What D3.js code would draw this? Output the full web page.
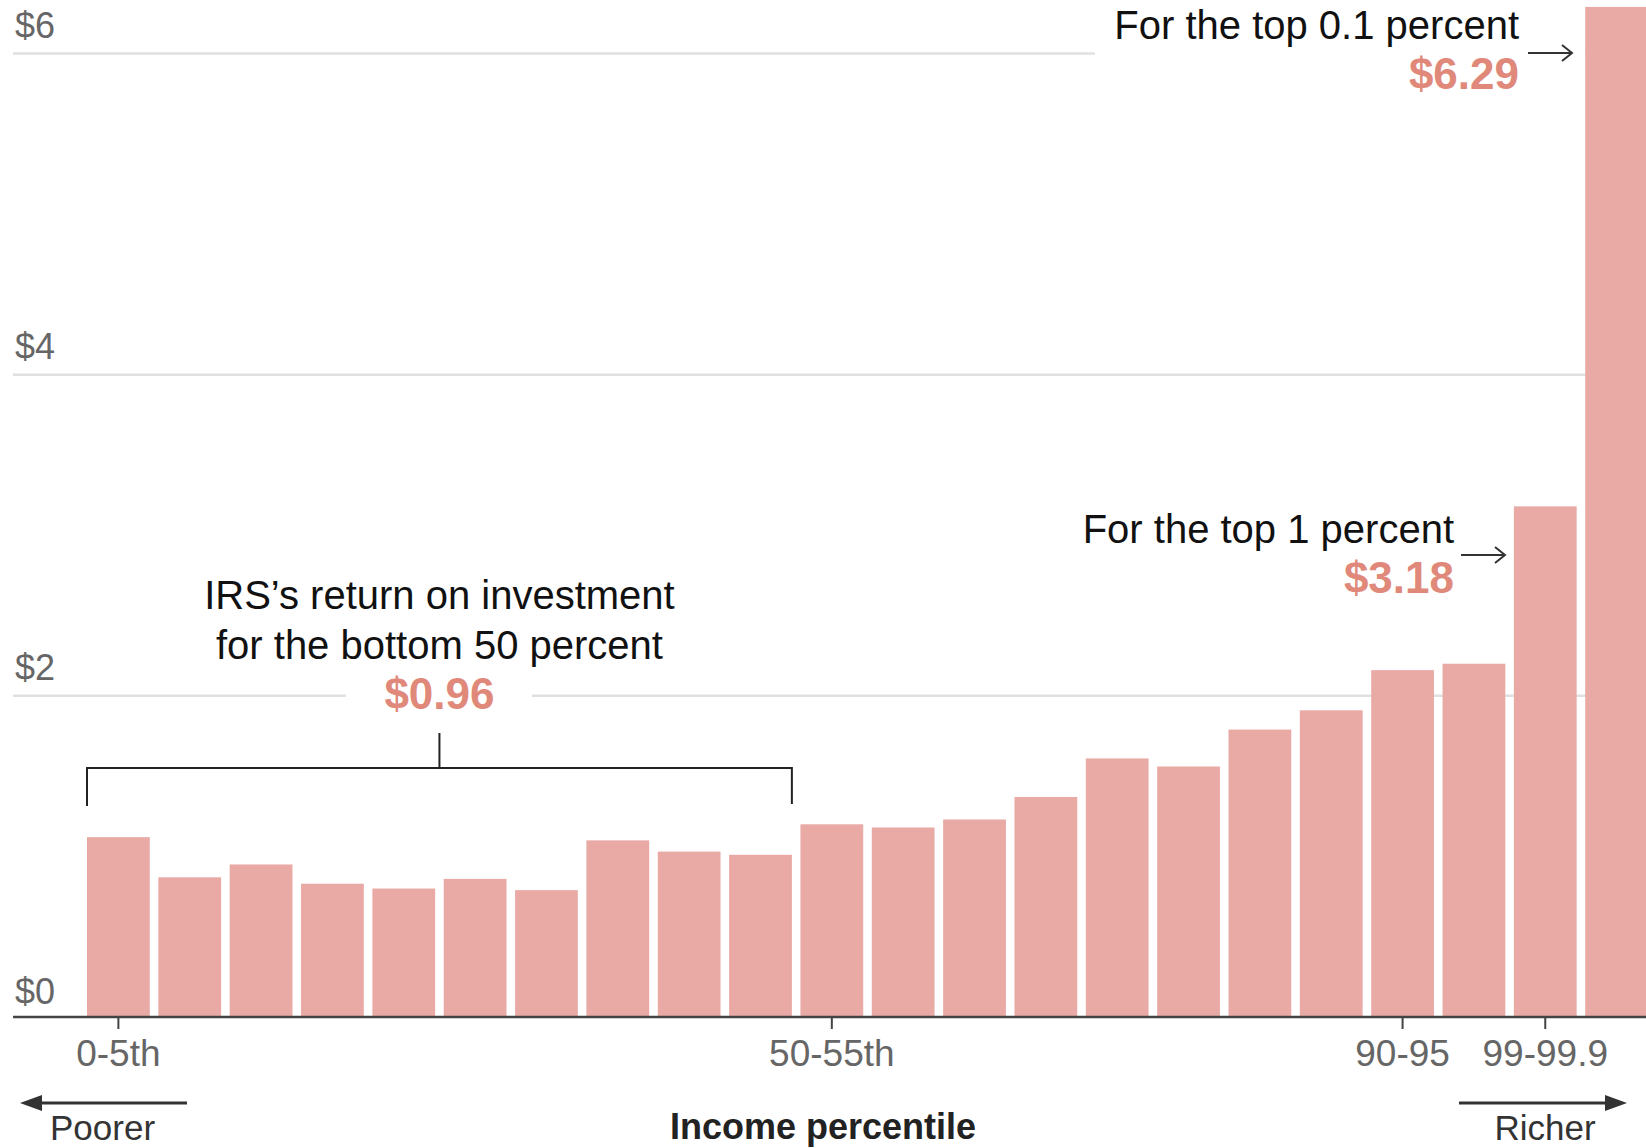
<!DOCTYPE html>
<html>
<head>
<meta charset="utf-8">
<script src="https://cdn.jsdelivr.net/npm/d3@7"></script>
<style>
  body { margin: 0; background: #fff; }
  text { font-family: "Liberation Sans", Arial, sans-serif; }
</style>
</head>
<body>
<div id="irs-graph"></div>
<script>
// data: IRS return per dollar spent, by income percentile
var categories = ["0-5", "5-10", "10-15", "15-20", "20-25", "25-30", "30-35", "35-40", "40-45", "45-50",
                  "50-55", "55-60", "60-65", "65-70", "70-75", "75-80", "80-85", "85-90",
                  "90-95", "95-99", "99-99.9", "99.9-100"];
var values = [1.12, 0.87, 0.95, 0.83, 0.80, 0.86, 0.79, 1.10, 1.03, 1.01,
              1.20, 1.18, 1.23, 1.37, 1.61, 1.56, 1.79, 1.91,
              2.16, 2.20, 3.18, 6.29];
var yTicks = [0, 2, 4, 6];
var xTickCats = ["0-5", "50-55", "90-95", "99-99.9"];
var xTickLabels = ["0-5th", "50-55th", "90-95", "99-99.9"];
var bottomGroup = ["0-5", "45-50"];

var data = categories.map(function(c, i) { return {cat: c, value: values[i]}; });

// set the dimensions of the graph
var width = 1646,
    height = 1148;

var svg = d3.select("#irs-graph")
  .append("svg")
    .attr("width", width)
    .attr("height", height);

var x = d3.scaleBand()
  .domain(categories)
  .range([87, 1648])
  .paddingInner(0.12)
  .paddingOuter(0);

var y = d3.scaleLinear()
  .domain([0, 6])
  .range([1017, 53.5]);

// gridlines
svg.selectAll(".grid")
  .data(yTicks.filter(function(d) { return d > 0; }))
  .enter()
  .append("line")
    .attr("class", "grid")
    .attr("x1", 13)
    .attr("x2", width)
    .attr("y1", function(d) { return y(d); })
    .attr("y2", function(d) { return y(d); })
    .style("stroke", "#e0e0e0")
    .style("stroke-width", 2.5);

// y labels sit above their gridline
svg.selectAll(".ylabel")
  .data(yTicks)
  .enter()
  .append("text")
    .attr("class", "ylabel")
    .attr("x", 15)
    .attr("y", function(d) { return y(d) - (d > 0 ? 16 : 13); })
    .style("font-size", "36px")
    .style("fill", "#666")
    .text(function(d) { return "$" + d; });

// white blocks that break the gridlines behind the annotations
svg.append("rect")
  .attr("x", 346).attr("y", 680).attr("width", 186).attr("height", 30)
  .style("fill", "#fff");
svg.append("rect")
  .attr("x", 1095).attr("y", 42).attr("width", 490).attr("height", 24)
  .style("fill", "#fff");

// bars
svg.selectAll(".bar")
  .data(data)
  .enter()
  .append("rect")
    .attr("class", "bar")
    .attr("x", function(d) { return x(d.cat); })
    .attr("y", function(d) { return y(d.value); })
    .attr("width", x.bandwidth())
    .attr("height", function(d) { return y(0) - y(d.value); })
    .style("fill", "#e9aaa6");

// x axis
var xAxis = svg.append("g")
  .attr("transform", "translate(0," + y(0) + ")")
  .call(d3.axisBottom(x)
    .tickValues(xTickCats)
    .tickFormat(function(d) { return xTickLabels[xTickCats.indexOf(d)]; })
    .tickSize(12));
xAxis.select(".domain").remove();
xAxis.selectAll(".tick line")
  .style("stroke", "#444")
  .style("stroke-width", 2);
xAxis.selectAll(".tick text")
  .attr("y", 23)
  .style("font-family", "\"Liberation Sans\", Arial, sans-serif")
  .style("font-size", "37px")
  .style("fill", "#666");

svg.append("line")
  .attr("x1", 13).attr("x2", width)
  .attr("y1", y(0)).attr("y2", y(0))
  .style("stroke", "#444")
  .style("stroke-width", 2.5);

// bracket over the bottom 50 percent
var bx1 = x(bottomGroup[0]),
    bx2 = x(bottomGroup[1]) + x.bandwidth(),
    bmid = (bx1 + bx2) / 2;
svg.append("path")
  .attr("d", "M" + bx1 + ",806V768H" + bx2 + "V804M" + bmid + ",768V733")
  .style("fill", "none")
  .style("stroke", "#222")
  .style("stroke-width", 2);

function note(xPos, yPos, anchor, lines, valueText) {
  var g = svg.append("g");
  lines.forEach(function(l, i) {
    g.append("text")
      .attr("x", xPos)
      .attr("y", yPos + i * 50)
      .attr("text-anchor", anchor)
      .style("font-size", "40px")
      .style("fill", "#111")
      .text(l);
  });
  g.append("text")
    .attr("x", xPos)
    .attr("y", yPos + lines.length * 50)
    .attr("text-anchor", anchor)
    .style("font-size", "44px")
    .style("font-weight", "bold")
    .style("fill", "#e0887a")
    .text(valueText);
}

note(bmid, 609, "middle", ["IRS\u2019s return on investment", "for the bottom 50 percent"], "$0.96");
note(1454, 543, "end", ["For the top 1 percent"], "$3.18");
note(1519, 39, "end", ["For the top 0.1 percent"], "$6.29");

// thin arrows pointing at the top bars
function thinArrow(x1, x2, yy) {
  svg.append("path")
    .attr("d", "M" + x1 + "," + yy + "H" + x2 + "M" + (x2 - 10) + "," + (yy - 8) + "L" + x2 + "," + yy + "L" + (x2 - 10) + "," + (yy + 8))
    .style("fill", "none")
    .style("stroke", "#333")
    .style("stroke-width", 2);
}
thinArrow(1528, 1572, 53);
thinArrow(1461, 1505, 555);

// poorer / richer arrows
svg.append("line")
  .attr("x1", 187).attr("x2", 36).attr("y1", 1103).attr("y2", 1103)
  .style("stroke", "#333").style("stroke-width", 3);
svg.append("path")
  .attr("d", "M20,1103L42,1095L42,1111Z")
  .style("fill", "#333");
svg.append("line")
  .attr("x1", 1459).attr("x2", 1611).attr("y1", 1103).attr("y2", 1103)
  .style("stroke", "#333").style("stroke-width", 3);
svg.append("path")
  .attr("d", "M1627,1103L1605,1095L1605,1111Z")
  .style("fill", "#333");

svg.append("text")
  .attr("x", 50).attr("y", 1140)
  .style("font-size", "35px")
  .style("fill", "#333")
  .text("Poorer");
svg.append("text")
  .attr("x", 1545).attr("y", 1140)
  .attr("text-anchor", "middle")
  .style("font-size", "35px")
  .style("fill", "#333")
  .text("Richer");
svg.append("text")
  .attr("x", 823).attr("y", 1139)
  .attr("text-anchor", "middle")
  .style("font-size", "36px")
  .style("font-weight", "bold")
  .style("fill", "#222")
  .text("Income percentile");
</script>
</body>
</html>
